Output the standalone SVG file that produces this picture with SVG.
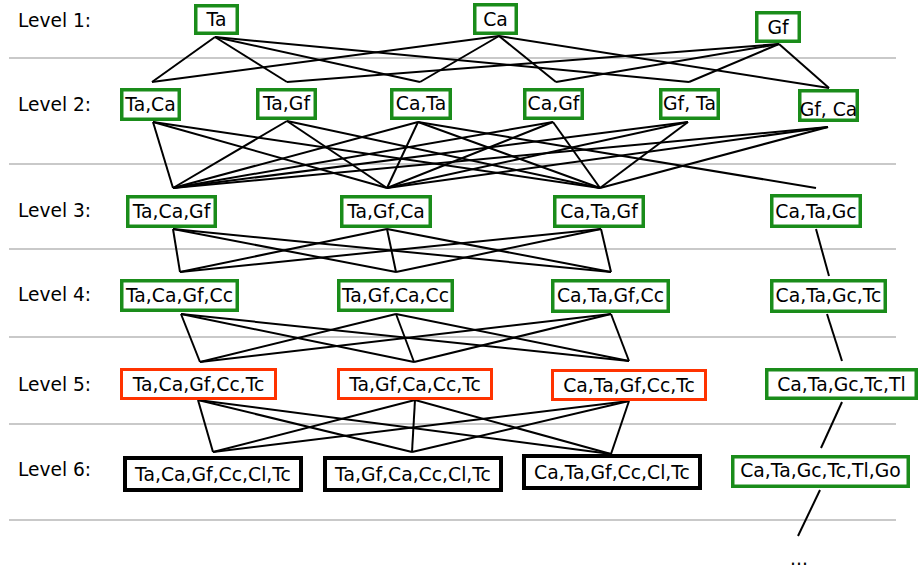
<svg xmlns="http://www.w3.org/2000/svg" width="919" height="570" viewBox="0 0 919 570">
<style>
.bg{fill:#ffffff}
.sep{stroke:#c9c9c9;stroke-width:2;fill:none}
.lbl{font-family:"DejaVu Sans","Liberation Sans",sans-serif;font-size:18.6px;fill:#000}
.t{font-family:"DejaVu Sans","Liberation Sans",sans-serif;font-size:18.8px;fill:#000;text-anchor:middle}
.g{fill:#fff;stroke:#1a8c1a;stroke-width:3.5}
.r{fill:#fff;stroke:#ff3300;stroke-width:3}
.k{fill:#fff;stroke:#000;stroke-width:4}
.c line{stroke:#000;stroke-width:2}
</style>
<rect class="bg" x="0" y="0" width="919" height="570"/>
<g id="separators">
<line class="sep" x1="9" y1="58" x2="896" y2="58"/>
<line class="sep" x1="9" y1="164" x2="896" y2="164"/>
<line class="sep" x1="9" y1="249" x2="896" y2="249"/>
<line class="sep" x1="9" y1="337" x2="896" y2="337"/>
<line class="sep" x1="9" y1="424" x2="896" y2="424"/>
<line class="sep" x1="9" y1="520" x2="896" y2="520"/>
</g>
<g id="labels">
<text class="lbl" x="18" y="27">Level 1:</text>
<text class="lbl" x="18" y="111">Level 2:</text>
<text class="lbl" x="18" y="217">Level 3:</text>
<text class="lbl" x="18" y="301">Level 4:</text>
<text class="lbl" x="18" y="391">Level 5:</text>
<text class="lbl" x="18" y="476">Level 6:</text>
</g>
<g id="connectors" class="c">
<line x1="215" y1="37" x2="152" y2="82"/>
<line x1="215" y1="37" x2="287" y2="82"/>
<line x1="215" y1="37" x2="420" y2="82"/>
<line x1="215" y1="37" x2="689" y2="82"/>
<line x1="499" y1="36" x2="152" y2="82"/>
<line x1="499" y1="36" x2="420" y2="82"/>
<line x1="499" y1="36" x2="556" y2="82"/>
<line x1="499" y1="36" x2="829" y2="88"/>
<line x1="779" y1="44" x2="287" y2="82"/>
<line x1="779" y1="44" x2="556" y2="82"/>
<line x1="779" y1="44" x2="689" y2="82"/>
<line x1="779" y1="44" x2="829" y2="88"/>
<line x1="153" y1="122" x2="173" y2="188"/>
<line x1="153" y1="122" x2="387" y2="188"/>
<line x1="153" y1="122" x2="600" y2="188"/>
<line x1="287" y1="121" x2="173" y2="188"/>
<line x1="287" y1="121" x2="387" y2="188"/>
<line x1="287" y1="121" x2="600" y2="188"/>
<line x1="418" y1="122" x2="173" y2="188"/>
<line x1="418" y1="122" x2="387" y2="188"/>
<line x1="418" y1="122" x2="600" y2="188"/>
<line x1="418" y1="122" x2="816" y2="188"/>
<line x1="553" y1="122" x2="173" y2="188"/>
<line x1="553" y1="122" x2="387" y2="188"/>
<line x1="553" y1="122" x2="600" y2="188"/>
<line x1="688" y1="122" x2="173" y2="188"/>
<line x1="688" y1="122" x2="387" y2="188"/>
<line x1="688" y1="122" x2="600" y2="188"/>
<line x1="828" y1="127" x2="173" y2="188"/>
<line x1="828" y1="127" x2="387" y2="188"/>
<line x1="828" y1="127" x2="600" y2="188"/>
<line x1="173" y1="229" x2="180" y2="272"/>
<line x1="173" y1="229" x2="396" y2="272"/>
<line x1="173" y1="229" x2="611" y2="272"/>
<line x1="387" y1="229" x2="180" y2="272"/>
<line x1="387" y1="229" x2="396" y2="272"/>
<line x1="387" y1="229" x2="611" y2="272"/>
<line x1="601" y1="229" x2="180" y2="272"/>
<line x1="601" y1="229" x2="396" y2="272"/>
<line x1="601" y1="229" x2="611" y2="272"/>
<line x1="816" y1="229" x2="829" y2="276"/>
<line x1="181" y1="314" x2="200" y2="362"/>
<line x1="181" y1="314" x2="414" y2="362"/>
<line x1="181" y1="314" x2="629" y2="361"/>
<line x1="396" y1="314" x2="200" y2="362"/>
<line x1="396" y1="314" x2="414" y2="362"/>
<line x1="396" y1="314" x2="629" y2="361"/>
<line x1="611" y1="314" x2="200" y2="362"/>
<line x1="611" y1="314" x2="414" y2="362"/>
<line x1="611" y1="314" x2="629" y2="361"/>
<line x1="827" y1="314" x2="842" y2="361"/>
<line x1="198" y1="400" x2="213" y2="452"/>
<line x1="198" y1="400" x2="412" y2="452"/>
<line x1="198" y1="400" x2="611" y2="454"/>
<line x1="415" y1="400" x2="213" y2="452"/>
<line x1="415" y1="400" x2="412" y2="452"/>
<line x1="415" y1="400" x2="611" y2="454"/>
<line x1="629" y1="401" x2="213" y2="452"/>
<line x1="629" y1="401" x2="412" y2="452"/>
<line x1="629" y1="401" x2="611" y2="454"/>
<line x1="842" y1="402" x2="821" y2="448"/>
<line x1="820" y1="490" x2="798" y2="536"/>
</g>
<g id="n_Ta"><rect class="g" x="195.75" y="5.75" width="41.5" height="27.5"/><text class="t" x="216.5" y="26">Ta</text></g>
<g id="n_Ca"><rect class="g" x="474.75" y="4.75" width="41.5" height="28.5"/><text class="t" x="495.5" y="26">Ca</text></g>
<g id="n_Gf"><rect class="g" x="756.75" y="12.75" width="42.5" height="28.5"/><text class="t" x="778" y="34">Gf</text></g>
<g id="n_TaCa"><rect class="g" x="121.75" y="89.75" width="57.5" height="29.5"/><text class="t" x="150.5" y="111">Ta,Ca</text></g>
<g id="n_TaGf"><rect class="g" x="257.75" y="89.75" width="57.5" height="28.5"/><text class="t" x="286.5" y="110">Ta,Gf</text></g>
<g id="n_CaTa"><rect class="g" x="391.75" y="89.75" width="58.5" height="28.5"/><text class="t" x="421" y="110">Ca,Ta</text></g>
<g id="n_CaGf"><rect class="g" x="524.75" y="89.75" width="57.5" height="28.5"/><text class="t" x="553.5" y="110">Ca,Gf</text></g>
<g id="n_GfTa"><rect class="g" x="660.75" y="89.75" width="57.5" height="28.5"/><text class="t" x="689.5" y="110">Gf, Ta</text></g>
<g id="n_GfCa"><rect class="g" x="799.75" y="90.75" width="57.5" height="29.5"/><text class="t" x="828.5" y="116">Gf, Ca</text></g>
<g id="n_TaCaGf"><rect class="g" x="127.75" y="196.75" width="87.5" height="29.5"/><text class="t" x="171.5" y="218">Ta,Ca,Gf</text></g>
<g id="n_TaGfCa"><rect class="g" x="341.75" y="196.75" width="88.5" height="29.5"/><text class="t" x="386" y="218">Ta,Gf,Ca</text></g>
<g id="n_CaTaGf"><rect class="g" x="554.75" y="196.75" width="88.5" height="29.5"/><text class="t" x="599" y="218">Ca,Ta,Gf</text></g>
<g id="n_CaTaGc"><rect class="g" x="771.75" y="195.75" width="88.5" height="30.5"/><text class="t" x="816" y="218">Ca,Ta,Gc</text></g>
<g id="n_TaCaGfCc"><rect class="g" x="121.75" y="280.75" width="115.5" height="29.5"/><text class="t" x="179.5" y="302">Ta,Ca,Gf,Cc</text></g>
<g id="n_TaGfCaCc"><rect class="g" x="338.75" y="280.75" width="113.5" height="29.5"/><text class="t" x="395.5" y="302">Ta,Gf,Ca,Cc</text></g>
<g id="n_CaTaGfCc"><rect class="g" x="552.75" y="280.75" width="115.5" height="30.5"/><text class="t" x="610.5" y="302">Ca,Ta,Gf,Cc</text></g>
<g id="n_CaTaGcTc"><rect class="g" x="771.75" y="280.75" width="113.5" height="30.5"/><text class="t" x="828.5" y="302">Ca,Ta,Gc,Tc</text></g>
<g id="n_TaCaGfCcTc"><rect class="r" x="121.5" y="369.5" width="154" height="29"/><text class="t" x="198.5" y="391">Ta,Ca,Gf,Cc,Tc</text></g>
<g id="n_TaGfCaCcTc"><rect class="r" x="338.5" y="369.5" width="153" height="29"/><text class="t" x="415" y="391">Ta,Gf,Ca,Cc,Tc</text></g>
<g id="n_CaTaGfCcTc"><rect class="r" x="552.5" y="370.5" width="153" height="29"/><text class="t" x="629" y="392">Ca,Ta,Gf,Cc,Tc</text></g>
<g id="n_CaTaGcTcTl"><rect class="g" x="766.75" y="369.75" width="149.5" height="28.5"/><text class="t" x="841.5" y="391">Ca,Ta,Gc,Tc,Tl</text></g>
<g id="n_TaCaGfCcClTc"><rect class="k" x="125" y="458" width="176" height="32"/><text class="t" x="213" y="481">Ta,Ca,Gf,Cc,Cl,Tc</text></g>
<g id="n_TaGfCaCcClTc"><rect class="k" x="325" y="458" width="176" height="32"/><text class="t" x="413" y="481">Ta,Gf,Ca,Cc,Cl,Tc</text></g>
<g id="n_CaTaGfCcClTc"><rect class="k" x="524" y="456" width="176" height="32"/><text class="t" x="612" y="479">Ca,Ta,Gf,Cc,Cl,Tc</text></g>
<g id="n_CaTaGcTcTlGo"><rect class="g" x="732.75" y="456.75" width="175.5" height="29.5"/><text class="t" x="820.5" y="477">Ca,Ta,Gc,Tc,Tl,Go</text></g>
<g id="ellipsis"><text class="t" x="799" y="565">...</text></g>
</svg>
